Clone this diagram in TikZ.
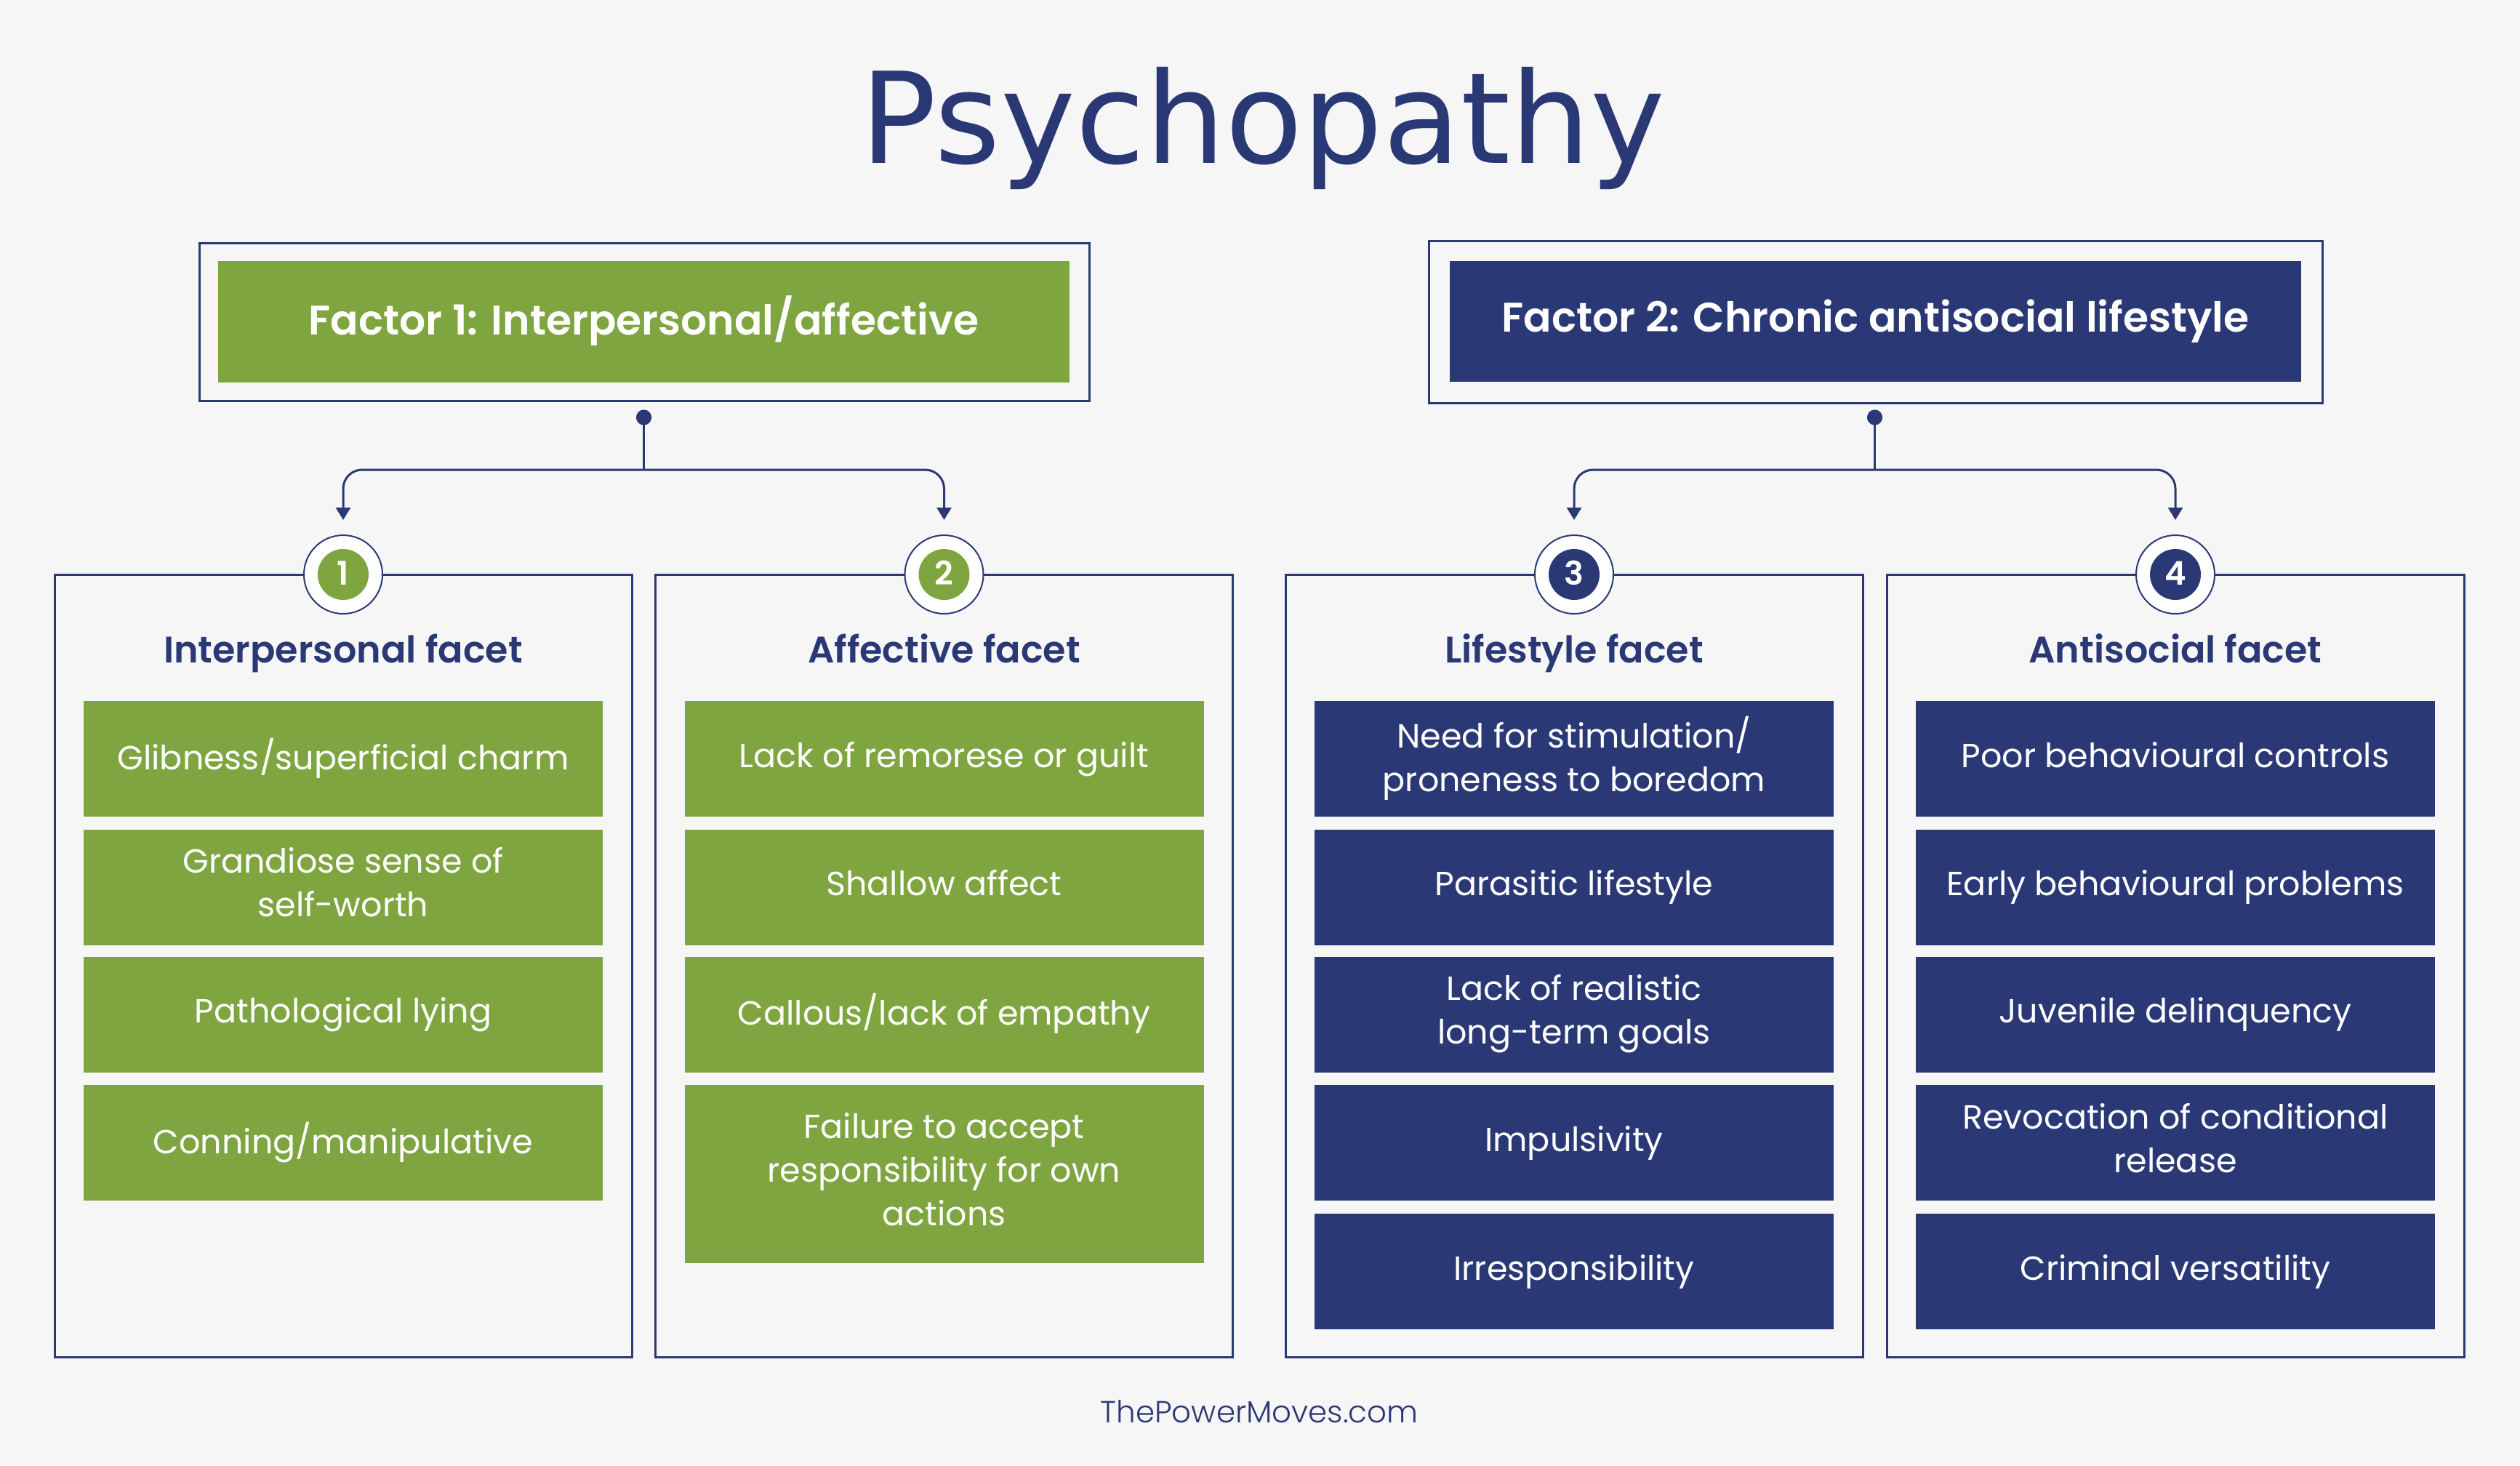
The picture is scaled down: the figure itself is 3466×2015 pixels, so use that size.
\documentclass[tikz,border=0pt]{standalone}
\usepackage{fontspec}
\setmainfont{Poppins}
\newfontfamily\titlefont{DejaVu Sans}
\newfontfamily\semib{Poppins SemiBold}
\newfontfamily\lightf{Poppins Light}
\usetikzlibrary{arrows.meta}
\definecolor{navy}{RGB}{42,57,118}
\definecolor{leaf}{RGB}{127,165,64}
\definecolor{bgc}{RGB}{246,246,246}
\newcommand\istrut{\rule[-0.3em]{0pt}{1.1em}}
\tikzset{
  frame/.style={draw=navy, line width=0.75pt, inner sep=0pt},
  factorbox/.style={fill=#1, text=white, inner sep=0pt, minimum width=292.75pt, minimum height=41.6pt,
     font=\semib\fontsize{14.2pt}{16pt}\selectfont, execute at begin node=\istrut},
  itembox/.style={fill=#1, text=white, inner sep=0pt, minimum width=178.5pt, minimum height=39.75pt,
     align=center, font=\fontsize{11.5pt}{15pt}\selectfont,
     execute at begin node=\istrut, execute at end node=\istrut},
  facetframe/.style={frame, minimum width=198.5pt, minimum height=269pt},
  heading/.style={anchor=base, text=navy, inner sep=0pt, font=\semib\fontsize{12.7pt}{15pt}\selectfont},
  badge/.style={circle, draw=navy, line width=0.5pt, fill=white, minimum size=27pt, inner sep=0pt},
  num/.style={circle, fill=#1, text=white, minimum size=17.5pt, inner sep=0pt,
     font=\semib\fontsize{11.2pt}{12pt}\selectfont, text height=0.7em, text depth=0pt},
  dotnode/.style={circle, fill=navy, minimum size=5.3pt, inner sep=0pt},
  conn/.style={draw=navy, line width=0.75pt},
  arr/.style={-{Triangle[length=4.25pt,width=5pt]}, rounded corners=6.5pt, shorten >=5pt},
}
\begin{document}
\begin{tikzpicture}[x=0.25pt,y=-0.25pt]
\fill[bgc] (0,0) rectangle (3466,2015);
\useasboundingbox (0,0) rectangle (3466,2015);

% title
\node[anchor=base, text=navy, inner sep=0pt, font=\titlefont\fontsize{43.5pt}{50pt}\selectfont] (title) at (1737,224) {Psychopathy};

% factor boxes
\node[frame, minimum width=306pt, minimum height=54.25pt] (f1frame) at (886,442.5) {};
\node[factorbox=leaf] (f1) at (885.5,442.5) {Factor 1: Interpersonal/affective};
\node[frame, minimum width=307.25pt, minimum height=55.75pt] (f2frame) at (2579.5,442.5) {};
\node[factorbox=navy] (f2) at (2579.5,442) {Factor 2: Chronic antisocial lifestyle};

% facet frames
\node[facetframe] (c1) at (472,1328) {};
\node[facetframe] (c2) at (1298.5,1328) {};
\node[facetframe] (c3) at (2165,1328) {};
\node[facetframe] (c4) at (2992,1328) {};

% badges
\node[badge] (b1) at (472,790) {};
\node[num=leaf] (n1) at (b1) {1};
\node[badge] (b2) at (1298.5,790) {};
\node[num=leaf] (n2) at (b2) {2};
\node[badge] (b3) at (2165,790) {};
\node[num=navy] (n3) at (b3) {3};
\node[badge] (b4) at (2992,790) {};
\node[num=navy] (n4) at (b4) {4};

% connectors
\node[dotnode] (d1) at (885.5,574) {};
\coordinate (j1) at (885.5,646);
\draw[conn] (d1.center) -- (j1);
\draw[conn, arr] (j1) -| (b1.north);
\draw[conn, arr] (j1) -| (b2.north);
\node[dotnode] (d2) at (2578.5,574) {};
\coordinate (j2) at (2578.5,646);
\draw[conn] (d2.center) -- (j2);
\draw[conn, arr] (j2) -| (b3.north);
\draw[conn, arr] (j2) -| (b4.north);

% headings
\node[heading] (h1) at (472,911.7) {Interpersonal facet};
\node[heading] (h2) at (1298.5,911.7) {Affective facet};
\node[heading] (h3) at (2165,911.7) {Lifestyle facet};
\node[heading] (h4) at (2992,911.7) {Antisocial facet};

% column 1
\node[itembox=leaf] (i11) at (472,1043.5) {Glibness/superficial charm};
\node[itembox=leaf] (i12) at (472,1220) {Grandiose sense of\\self-worth};
\node[itembox=leaf] (i13) at (472,1395) {Pathological lying};
\node[itembox=leaf] (i14) at (472,1571.5) {Conning/manipulative};

% column 2
\node[itembox=leaf] (i21) at (1298.5,1043.5) {Lack of remorese or guilt};
\node[itembox=leaf] (i22) at (1298.5,1220) {Shallow affect};
\node[itembox=leaf] (i23) at (1298.5,1395) {Callous/lack of empathy};
\node[itembox=leaf, minimum height=61.25pt] (i24) at (1298.5,1614.5) {Failure to accept\\responsibility for own\\actions};

% column 3
\node[itembox=navy] (i31) at (2165,1043.5) {Need for stimulation/\\proneness to boredom};
\node[itembox=navy] (i32) at (2165,1220) {Parasitic lifestyle};
\node[itembox=navy] (i33) at (2165,1395) {Lack of realistic\\long-term goals};
\node[itembox=navy] (i34) at (2165,1571.5) {Impulsivity};
\node[itembox=navy] (i35) at (2165,1748.5) {Irresponsibility};

% column 4
\node[itembox=navy] (i41) at (2992,1043.5) {Poor behavioural controls};
\node[itembox=navy] (i42) at (2992,1220) {Early behavioural problems};
\node[itembox=navy] (i43) at (2992,1395) {Juvenile delinquency};
\node[itembox=navy] (i44) at (2992,1571.5) {Revocation of conditional\\release};
\node[itembox=navy] (i45) at (2992,1748.5) {Criminal versatility};

% footer
\node[anchor=base, text=navy, inner sep=0pt, font=\lightf\fontsize{10.5pt}{12pt}\selectfont] (foot) at (1732,1956) {ThePowerMoves.com};
\end{tikzpicture}
\end{document}
